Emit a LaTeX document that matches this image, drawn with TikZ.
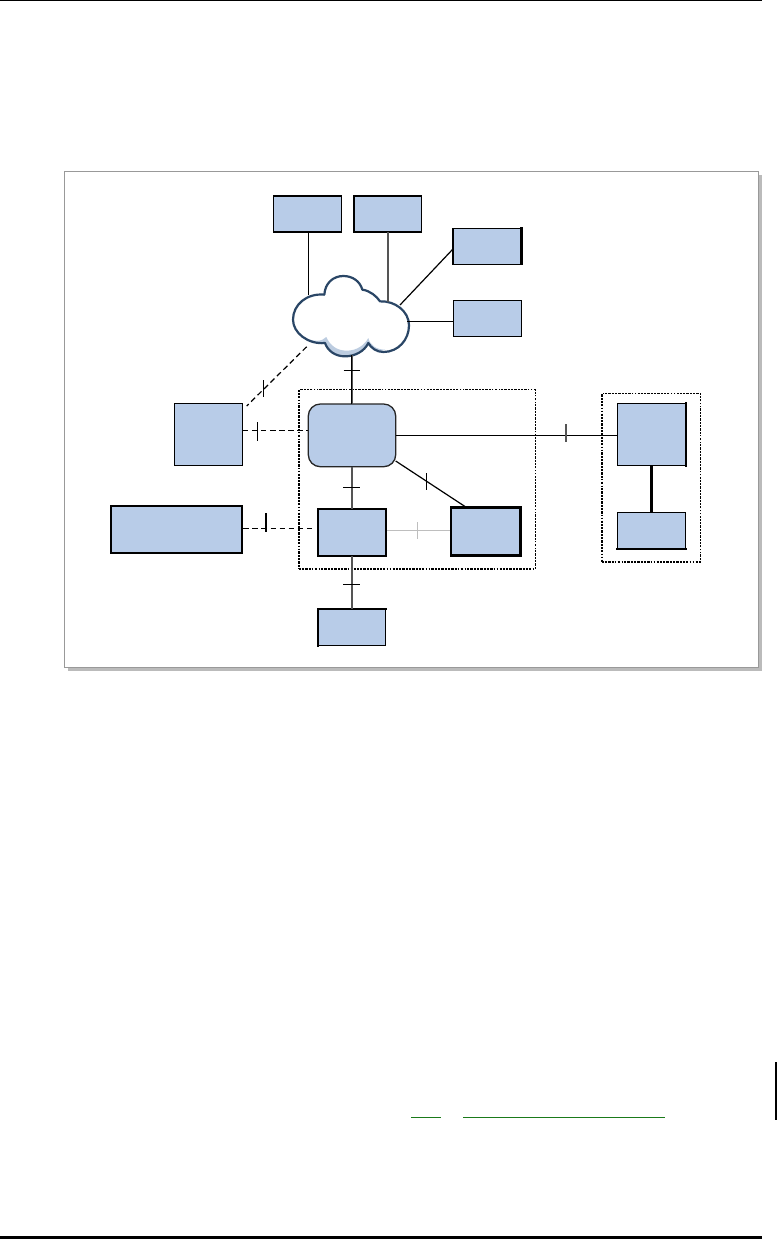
\documentclass[tikz,border=0pt]{standalone}
\usetikzlibrary{calc}
\definecolor{boxfill}{HTML}{B8CCE8}
\definecolor{cloudline}{HTML}{2A4666}
\definecolor{cloudshade}{HTML}{BCCCE0}
\definecolor{framegray}{HTML}{999999}
\definecolor{shadowgray}{HTML}{BBBBBB}
\definecolor{softgray}{HTML}{BEBEBE}
\definecolor{midgray}{HTML}{555555}
\definecolor{rulegreen}{HTML}{1A7A1A}
\tikzset{
  px/.style={line width=#1*0.75pt},
  pxsize/.style 2 args={minimum width=#1*0.75pt, minimum height=#2*0.75pt},
  plainbox/.style={shape=rectangle, inner sep=0pt, outer sep=0pt, draw=black, fill=boxfill, px=1.3},
  routerbox/.style={plainbox, rounded corners=9pt, draw=black!85, px=1.3},
  groupbox/.style={shape=rectangle, inner sep=0pt, outer sep=0pt, draw=black, px=1.6, dash pattern=on 1.3pt off 0.9pt on 1.3pt off 0.9pt on 2pt off 0.9pt},
  conn/.style={draw=black, px=1.2},
  greyconn/.style={draw=midgray, px=1.7},
  dashconn/.style={draw=black, px=1.2, dash pattern=on 4.2pt off 2.6pt},
  paleconn/.style={draw=softgray, px=1.2},
  tick/.style={draw=black, px=1.1},
  thickedge/.style={draw=black, px=#1, line cap=rect},
  framebox/.style={shape=rectangle, inner sep=0pt, outer sep=0pt, draw=framegray, fill=white, px=1.4},
  shadowbox/.style={shape=rectangle, inner sep=0pt, outer sep=0pt, fill=shadowgray},
  pagebar/.style={shape=rectangle, inner sep=0pt, outer sep=0pt, fill=black},
  greenrule/.style={draw=rulegreen, px=1},
}
\begin{document}
\begin{tikzpicture}[x=0.75pt,y=-0.75pt]
\useasboundingbox (0,0) rectangle (777,1239);
\fill[white] (0,0) rectangle (777,1239);

% page rules
\node[pagebar, pxsize={762}{1.2}] (topbar) at (381,0.6) {};
\node[pagebar, pxsize={762}{3}] (botbar) at (381,1237.5) {};
\node[pagebar, pxsize={2}{58}] (sidebar) at (776,1091) {};
\coordinate (g1a) at (411,1117.3);
\coordinate (g1b) at (441,1117.3);
\coordinate (g2a) at (463,1117.3);
\coordinate (g2b) at (665,1117.3);
\draw[greenrule] (g1a) -- (g1b);
\draw[greenrule] (g2a) -- (g2b);

% frame
\node[shadowbox, pxsize={694}{496}] (shadow) at (415,423) {};
\node[framebox, pxsize={694.4}{496.4}] (frame) at (411.5,419.5) {};

% dotted groups
\node[groupbox, pxsize={236.3}{179.3}] (groupA) at (417.2,479.3) {};
\node[groupbox, pxsize={98.3}{168.7}] (groupB) at (651.2,477.7) {};

% boxes
\node[plainbox, pxsize={68}{36}] (a) at (307.5,214) {};
\node[plainbox, pxsize={68}{36}] (b) at (387.6,214) {};
\node[plainbox, pxsize={68.6}{36}] (c) at (487.2,246.3) {};
\node[plainbox, pxsize={68}{36}] (d) at (487.5,318.3) {};
\node[plainbox, pxsize={68.4}{62.4}] (e) at (208.5,434.5) {};
\node[routerbox, pxsize={87.4}{62.7}] (router) at (352,435.35) {};
\node[plainbox, px=1.7, pxsize={131}{47}] (f) at (176.2,529.2) {};
\node[plainbox, px=2.3, pxsize={68.6}{47.6}] (g) at (352,532.5) {};
\node[plainbox, px=2.6, pxsize={69.3}{48}] (h) at (485.7,531.3) {};
\node[plainbox, px=1.5, pxsize={68}{37}] (i) at (351.7,627.2) {};
\node[plainbox, pxsize={68.4}{62.4}] (j) at (651.5,434.5) {};
\node[plainbox, pxsize={68.4}{37}] (k) at (651.5,530.8) {};

% uneven box edges
\draw[thickedge=2.2] (c.north east) -- (c.south east);
\draw[thickedge=2] (b.north west) -- (b.south west);
\draw[thickedge=2.2] (f.north west) -- (f.north east);
\draw[thickedge=2.2] (i.north west) -- (i.north east);
\draw[thickedge=2.2] (i.north west) -- (i.south west);
\draw[thickedge=2.2] (j.north east) -- (j.south east);
\draw[thickedge=2.2] (k.south west) -- (k.south east);

% cloud
\begin{scope}[shift={(285,268)},x=0.25pt,y=-0.25pt]
  \fill[white] (118,80) .. controls (120,45) and (145,24) .. (175,24)
    .. controls (203,24) and (225,40) .. (232,65)
    .. controls (255,68) and (275,85) .. (285,100)
    .. controls (330,98) and (372,130) .. (372,172)
    .. controls (372,215) and (340,252) .. (295,252)
    .. controls (275,252) and (258,240) .. (250,225)
    .. controls (238,250) and (210,265) .. (180,265)
    .. controls (150,265) and (128,248) .. (120,225)
    .. controls (70,230) and (24,195) .. (24,155)
    .. controls (24,110) and (65,75) .. (118,80) -- cycle;
  \fill[cloudshade] (60,208) .. controls (85,222) and (110,222) .. (124,207)
    .. controls (135,232) and (155,248) .. (185,248)
    .. controls (215,248) and (238,232) .. (250,210)
    .. controls (255,232) and (275,245) .. (300,245)
    .. controls (285,256) and (262,245) .. (250,225)
    .. controls (238,250) and (210,265) .. (180,265)
    .. controls (150,265) and (128,248) .. (120,225)
    .. controls (95,228) and (75,220) .. (60,208) -- cycle;
  \draw[cloudline, px=2.2, line join=round] (118,80) .. controls (120,45) and (145,24) .. (175,24)
    .. controls (203,24) and (225,40) .. (232,65)
    .. controls (255,68) and (275,85) .. (285,100)
    .. controls (330,98) and (372,130) .. (372,172)
    .. controls (372,215) and (340,252) .. (295,252)
    .. controls (275,252) and (258,240) .. (250,225)
    .. controls (238,250) and (210,265) .. (180,265)
    .. controls (150,265) and (128,248) .. (120,225)
    .. controls (70,230) and (24,195) .. (24,155)
    .. controls (24,110) and (65,75) .. (118,80) -- cycle;
\end{scope}
\coordinate (cloudA) at (308.4,295);
\coordinate (cloudB) at (388,301.5);
\coordinate (cloudC) at (400,305);
\coordinate (cloudD) at (407,321.3);
\coordinate (cloudE) at (351.7,355);
\coordinate (cloudF) at (306.7,346.7);
\coordinate (cEnd) at (452.7,249.3);
\coordinate (eNear) at (246.7,406);
\coordinate (eOut) at (242.7,430.7);
\coordinate (rIn) at (308.3,430.7);
\coordinate (rOut) at (395.7,461);
\coordinate (hIn) at (465,506.5);
\coordinate (fOut) at (243.3,528.3);
\coordinate (gIn) at (313,528.3);
\coordinate (gOut) at (387,530.3);
\coordinate (hWest) at (450,530.3);

% connectors
\draw[conn] (cloudA |- a.south) -- (cloudA);
\draw[greyconn] (cloudB |- b.south) -- (cloudB);
\draw[conn] (cEnd) -- (cloudC);
\draw[conn] (d.west |- cloudD) -- (cloudD);
\draw[greyconn] (cloudE) -- (router.north -| cloudE);
\draw[conn] (cloudE) -- (router.north -| cloudE);
\draw[dashconn] (cloudF) -- (eNear);
\draw[dashconn] (eOut) -- (rIn);
\draw[conn] (router.east) -- (router.east -| j.west);
\draw[conn] (rOut) -- (hIn);
\draw[greyconn] (router.south -| cloudE) -- (g.north -| cloudE);
\draw[dashconn] (fOut) -- (gIn);
\draw[paleconn] (gOut) -- (hWest);
\draw[greyconn] (g.south -| cloudE) -- (i.north -| cloudE);
\draw[draw=black, px=2.2] (j.south -| k.north) -- (k.north);

% tick marks
\coordinate (t1a) at (343.5,370.3); \coordinate (t1b) at (360,370.3);
\coordinate (t2a) at (263.7,380); \coordinate (t2b) at (263.7,397.3);
\coordinate (t3a) at (257.3,422); \coordinate (t3b) at (257.3,440.7);
\coordinate (t4a) at (565.7,424); \coordinate (t4b) at (565.7,442);
\coordinate (t5a) at (426.3,473.3); \coordinate (t5b) at (426.3,490);
\coordinate (t6a) at (343.3,487.3); \coordinate (t6b) at (360,487.3);
\coordinate (t7a) at (266,513.3); \coordinate (t7b) at (266,531.7);
\coordinate (t8a) at (417.7,522); \coordinate (t8b) at (417.7,539);
\coordinate (t9a) at (343.3,584.3); \coordinate (t9b) at (360,584.3);
\draw[tick] (t1a) -- (t1b);
\draw[tick] (t2a) -- (t2b);
\draw[tick] (t3a) -- (t3b);
\draw[tick, draw=midgray, px=1.6] (t4a) -- (t4b);
\draw[tick] (t5a) -- (t5b);
\draw[tick] (t6a) -- (t6b);
\draw[tick] (t7a) -- (t7b);
\draw[tick, draw=softgray] (t8a) -- (t8b);
\draw[tick] (t9a) -- (t9b);
\end{tikzpicture}
\end{document}
